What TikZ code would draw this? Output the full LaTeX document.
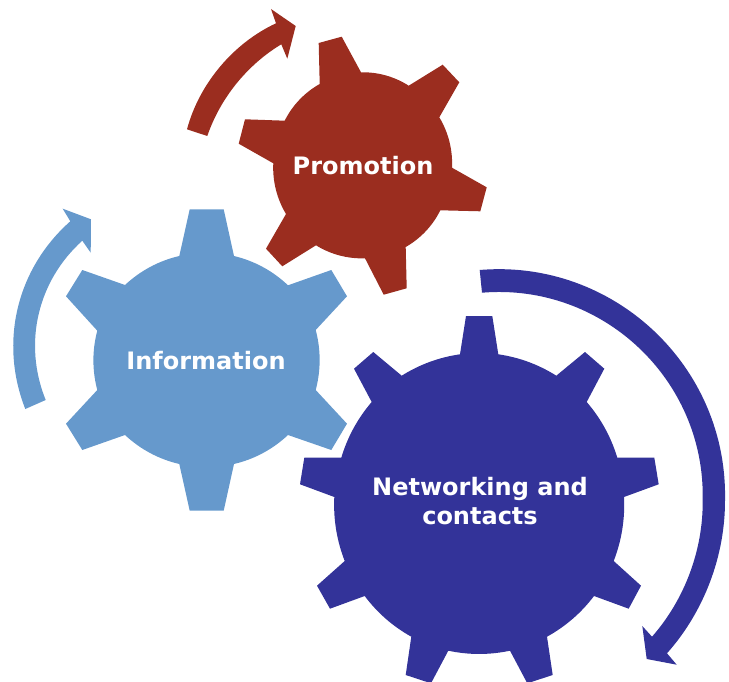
\documentclass[tikz,border=0pt]{standalone}
\usepackage{fontspec}
\setmainfont{DejaVu Sans}
\definecolor{promored}{HTML}{9B2D1F}
\definecolor{infoblue}{HTML}{6699CC}
\definecolor{netnavy}{HTML}{333399}
\tikzset{
	gearlabel/.style={text=white, font=\bfseries\fontsize{24}{28.5}\selectfont, align=center, inner sep=0pt}
}
\begin{document}
\begin{tikzpicture}[x=1pt, y=-1pt, looseness=.87]
	\useasboundingbox (0,0) rectangle (729,682);
	% gears: each list item is one tooth
	\fill[infoblue] (125,285) \foreach \ax/\ay/\bx/\by/\cx/\cy/\ex/\ey in {
		179.3/256/189.7/209.3/223.7/209.3/234/256,
		288/285.3/331.3/270/347/296.3/315.7/330,
		315.7/390/347/423.7/331.3/450/288/435,
		234/464/223.7/510.7/189.7/510.7/179.3/464,
		125/435/82.3/450/66/423.7/97.3/390,
		97.3/330.7/66/296.3/82.3/270/125/285}
		{to[bend left=15] (\ax,\ay) -- (\bx,\by) -- (\cx,\cy) -- (\ex,\ey)} -- cycle;
	\fill[promored] (284.7,120.7) \foreach \ax/\ay/\bx/\by/\cx/\cy/\ex/\ey in {
		319.7/84/318.7/43/341.7/36.7/361/72.3,
		408.7/85.7/442.7/64.7/459.3/82.3/439.3/117.3,
		452/167.7/486.7/187.3/480.3/211.3/440.3/210.3,
		405.7/247/406.7/288.3/383.7/294.7/365/258.3,
		316/245.3/282.3/266.3/266/248.7/286/214,
		273.3/163.3/238.7/143.7/245/119.3/284.7/120.7}
		{to[bend left=17] (\ax,\ay) -- (\bx,\by) -- (\cx,\cy) -- (\ex,\ey)} -- cycle;
	\fill[netnavy] (401.7,375.7) \foreach \ax/\ay/\bx/\by/\cx/\cy/\ex/\ey in {
		460/354.3/466/316/492.3/316/498.3/354.3,
		556.3/375.7/585/352/604.3/368.7/586.7/402,
		617.3/457.7/654.3/457.7/658.7/484.3/624/497,
		613.7/561/641/585.7/628.7/608.7/594/596,
		547/636.7/552.7/675/527.3/683.3/510/650.7,
		448.3/650.7/431/683.3/405.7/675/411.3/636.7,
		364.7/596/330/608.7/317/585.7/344.7/561,
		334.3/497/300/484.3/304.3/457.7/341.3/457.7,
		371.7/402/354/368.7/373.3/352/401.7/375.7}
		{to[bend left=12] (\ax,\ay) -- (\bx,\by) -- (\cx,\cy) -- (\ex,\ey)} -- cycle;
	% turning arrows
	\fill[promored] (187,129.3) to[bend left=25] (276,23.3) -- (271,9) -- (295.7,26) -- (287.3,58.7)
		-- (281.3,44.3) to[bend right=20] (207.3,136) -- cycle;
	\fill[infoblue] (25.3,409) to[bend left=35, looseness=.95] (70.3,221.3) -- (62.7,208.7) -- (91,219.3) -- (90.7,252.7)
		-- (82.3,240.7) to[bend right=35, looseness=.95] (45.7,400) -- cycle;
	\fill[netnavy] (479.7,270) to[bend left=48, looseness=1.02] (725,500) to[bend left=21] (667,653.3) -- (676.7,664.7)
		-- (646.7,659) -- (642.3,626) -- (652,636.7) to[bend right=21] (702.7,500) to[bend right=48, looseness=1.02] (482,292.7) -- cycle;
	% labels
	\node[gearlabel] (promotion) at (363,166) {Promotion};
	\node[gearlabel] (information) at (206,361) {Information};
	\node[gearlabel] (networking) at (480,501) {Networking and\\contacts};
\end{tikzpicture}
\end{document}
